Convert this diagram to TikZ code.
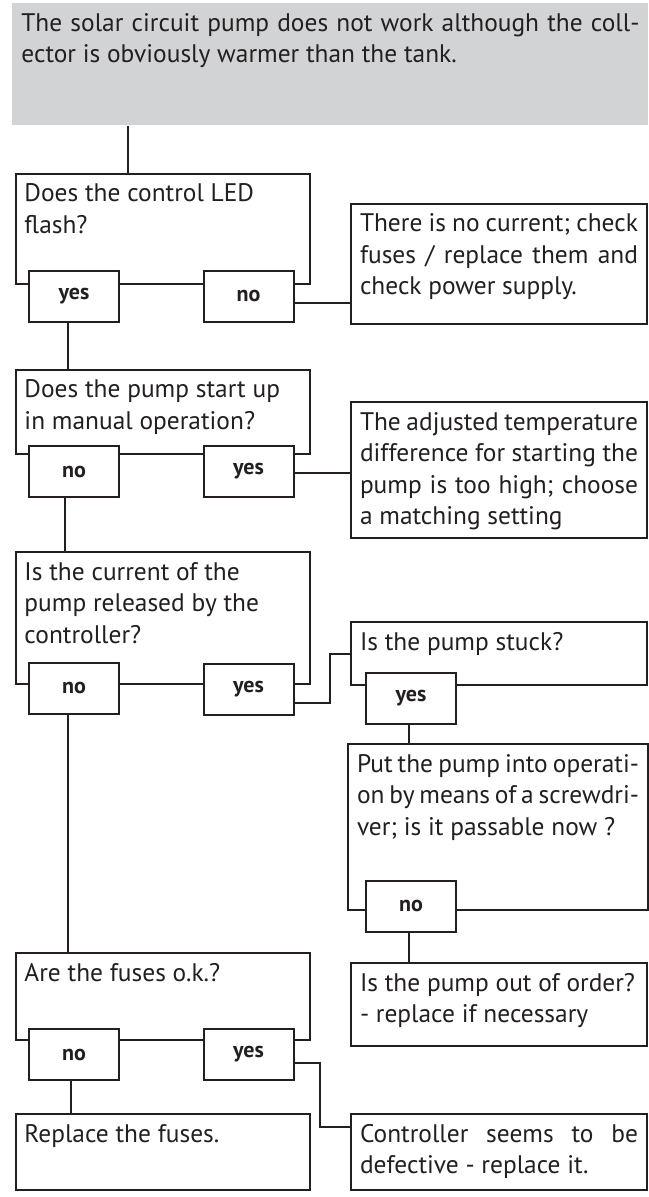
\documentclass[tikz,border=0pt]{standalone}
\usepackage{fontspec}
\setmainfont{PT Sans}
\definecolor{headgray}{RGB}{209,211,212}
\definecolor{inkgray}{RGB}{35,31,32}
\hyphenpenalty=10000

\begin{document}
\begin{tikzpicture}[x=0.5pt,y=-0.5pt,
    txt/.style={anchor=north west, inner xsep=4.5pt, inner ysep=4pt, text height=10pt,
      align=justify, text=inkgray, font=\fontsize{12.7}{15.75}\selectfont},
    lbox/.style={txt, draw=inkgray, line width=1pt, fill=white, text width=138.25pt},
    rbox/.style={txt, draw=inkgray, line width=1pt, fill=white, text width=139pt},
    ans/.style={draw=inkgray, line width=1pt, fill=white, minimum width=45pt,
      minimum height=25.5pt, inner sep=0pt, text=inkgray,
      font=\fontsize{11}{12}\selectfont\bfseries},
    wire/.style={draw=inkgray, line width=1pt}]
    \useasboundingbox (0,0) rectangle (648,1197);

    \node[txt, fill=headgray, text width=309pt, text depth=43pt] (top) at (12,3)
      {The solar circuit pump does not work although the coll-\linebreak ector is obviously warmer than the tank.};
    \node[lbox, text depth=37pt] (q1) at (14.5,173) {Does the control LED\\ flash?};
    \node[rbox, text depth=42pt] (r1) at (350,203)
      {There is no current; check\linebreak fuses / replace them and\linebreak check power supply.};
    \node[lbox, text depth=24pt] (q2) at (14.5,369) {Does the pump start up\\ in manual operation?};
    \node[rbox, text depth=50pt] (r2) at (350,401)
      {The adjusted temperature\linebreak difference for starting the\linebreak pump is too high; choose\linebreak a matching setting};
    \node[lbox, text depth=48pt] (q3) at (14.5,551) {Is the current of the\\ pump released by the\\ controller?};
    \node[rbox, text depth=13.5pt] (q4) at (350,621) {Is the pump stuck?};
    \node[rbox, text width=141pt, text depth=65pt] (q5) at (347,743)
      {Put the pump into operati-\linebreak on by means of a screwdri-\linebreak ver; is it passable now ?};
    \node[rbox, text depth=23.5pt] (r6) at (350,962) {Is the pump out of order?\\ - replace if necessary};
    \node[lbox, text depth=25.5pt] (q7) at (14.5,952) {Are the fuses o.k.?};
    \node[lbox, text depth=20pt] (r8) at (14.5,1113) {Replace the fuses.};
    \node[rbox, text depth=20pt] (r9) at (350,1113) {Controller seems to be\linebreak defective - replace it.};

    \node[ans] (q1yes) at (74,296.5) {yes};
    \node[ans] (q1no) at (248.5,296.5) {no};
    \node[ans] (q2no) at (74,471.5) {no};
    \node[ans] (q2yes) at (248.5,471.5) {yes};
    \node[ans] (q3no) at (74,688) {no};
    \node[ans] (q3yes) at (248.5,689) {yes};
    \node[ans] (q4yes) at (411,698) {yes};
    \node[ans] (q5no) at (411,906) {no};
    \node[ans] (q7no) at (74,1054.5) {no};
    \node[ans] (q7yes) at (248.5,1054.5) {yes};

    \coordinate (k0) at ([xshift=56.5pt]q1.north west);
    \coordinate (k1) at ([yshift=-3.25pt]q1no.east);
    \coordinate (k2) at ([xshift=-3.25pt]q1yes.south);
    \coordinate (k3) at ([yshift=-0.75pt]q2yes.east);
    \coordinate (k4) at ([xshift=-4.5pt]q2no.south);
    \coordinate (k5) at ([yshift=-7pt]q3yes.east);
    \coordinate (k6) at ([xshift=-1pt]q4yes.south);
    \coordinate (k7) at ([xshift=-3pt]q3no.south);
    \coordinate (k8) at ([xshift=-1pt]q5no.south);
    \coordinate (k9) at ([xshift=-1.5pt]q7no.south);
    \coordinate (k10) at ([yshift=-4.25pt]q7yes.east);
    \coordinate (k11) at ([yshift=12.5pt]r9.west);

    \draw[wire] (k0) -- (k0 |- top.south);
    \draw[wire] (k1) -- (k1 -| r1.west);
    \draw[wire] (k2) -- (k2 |- q2.north);
    \draw[wire] (k3) -- (k3 -| r2.west);
    \draw[wire] (k4) -- (k4 |- q3.north);
    \draw[wire] (k5) -- ++(35,0) |- (q4.west);
    \draw[wire] (k6) -- (k6 |- q5.north);
    \draw[wire] (k7) -- (k7 |- q7.north);
    \draw[wire] (k8) -- (k8 |- r6.north);
    \draw[wire] (k9) -- (k9 |- r8.north);
    \draw[wire] (k10) -- ++(25,0) |- (k11);
\end{tikzpicture}
\end{document}
